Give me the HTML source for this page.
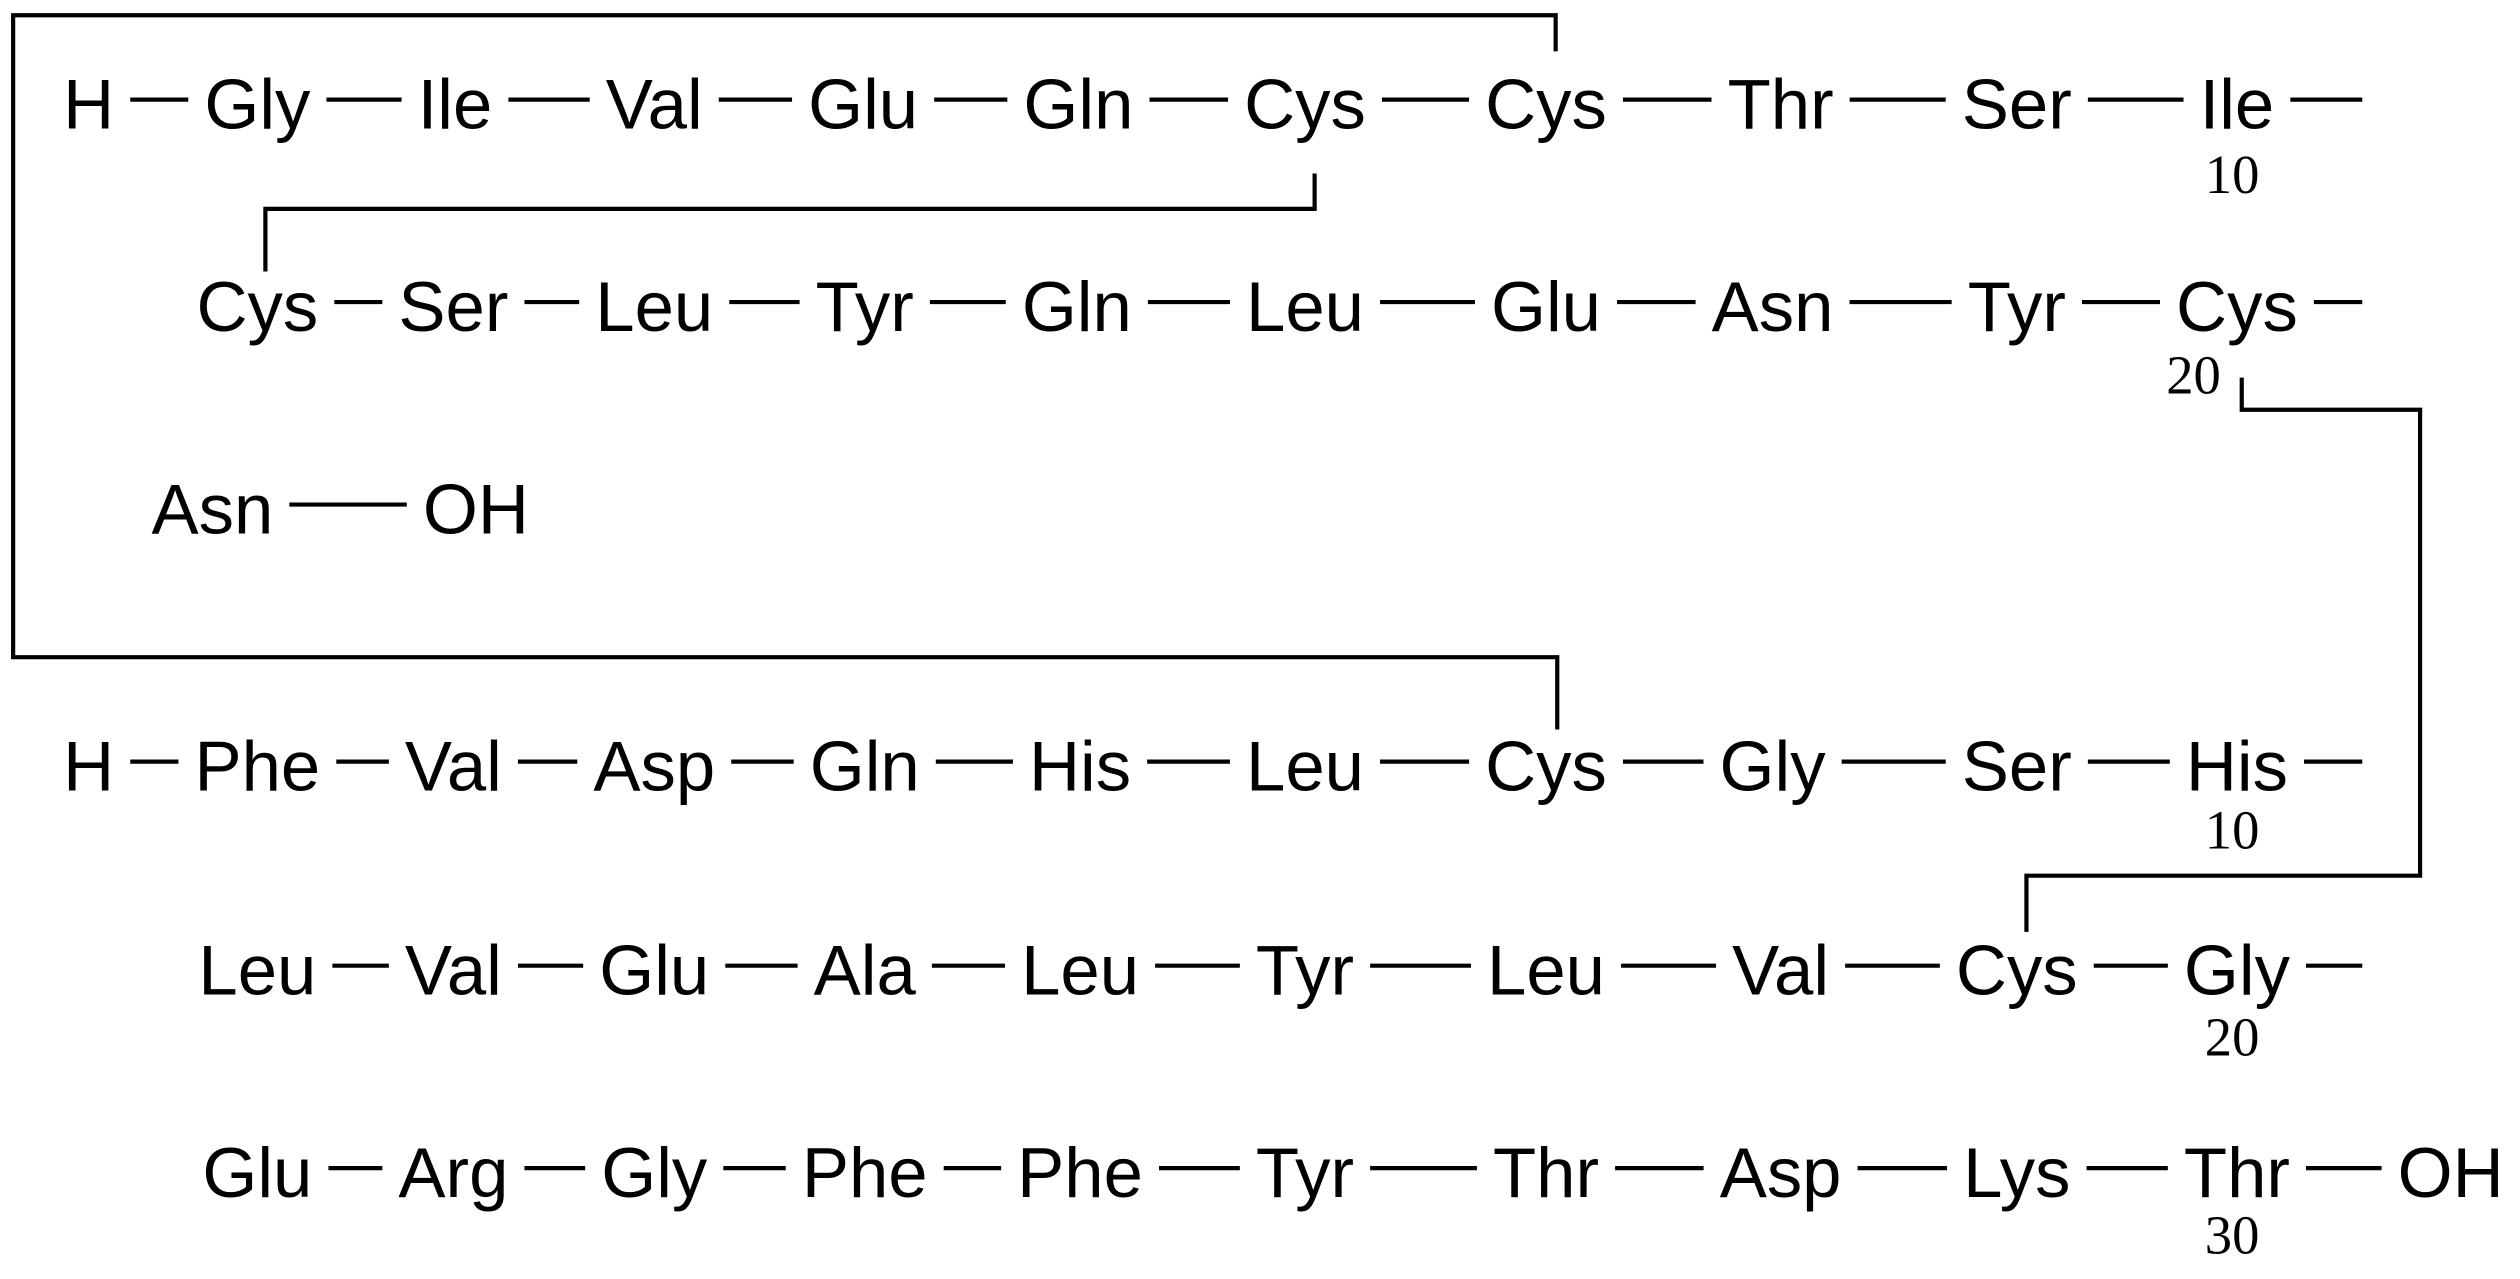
<!DOCTYPE html>
<html><head><meta charset="utf-8"><style>
html,body{margin:0;padding:0;background:#fff;}
svg{display:block;}
text{font-family:"Liberation Sans",Arial,sans-serif;font-size:44px;fill:#000;}
text.n{font-family:"Liberation Serif","Times New Roman",serif;font-size:34px;}
</style></head><body>
<svg id="s" width="2520" height="1279" viewBox="0 0 1568 796" xmlns="http://www.w3.org/2000/svg">
<g fill="none" stroke="#000" stroke-width="2.6">
<polyline points="968,32 968,9.5 8,9.5 8,409 969,409 969,454"/>
<polyline points="818,108 818,130 165,130 165,169"/>
<polyline points="1395,235 1395,255 1506,255 1506,545 1261,545 1261,580"/>
</g>
<g id="rows"></g>
</svg>
<script>
var rows=[
 {y:80,items:[["H",55],["Gly",160],["Ile",283],["Val",407],["Glu",537],["Gln",671],["Cys",812],["Cys",962],["Thr",1108],["Ser",1255],["Ile",1392]],trail:1470},
 {y:206,items:[["Cys",160],["Ser",282],["Leu",407],["Tyr",538],["Gln",670],["Leu",812],["Glu",962],["Asn",1103],["Tyr",1255],["Cys",1392]],trail:1470},
 {y:332,items:[["Asn",132],["OH",296]]},
 {y:492,items:[["H",55],["Phe",160],["Val",282],["Asp",407],["Gln",538],["His",672],["Leu",812],["Cys",962],["Gly",1103],["Ser",1255],["His",1392]],trail:1470},
 {y:619,items:[["Leu",160],["Val",282],["Glu",407],["Ala",538],["Leu",672],["Tyr",812],["Leu",962],["Val",1108],["Cys",1255],["Gly",1392]],trail:1470},
 {y:745,items:[["Glu",160],["Arg",282],["Gly",407],["Phe",538],["Phe",672],["Tyr",812],["Thr",962],["Asp",1108],["Lys",1255],["Thr",1392],["OH",1525]]}
];
var nums=[["10",1389,120],["20",1365,245],["10",1389,528],["20",1389,657],["30",1389,780]];
var NS="http://www.w3.org/2000/svg",g=document.getElementById("rows");
function T(s,x,y,c){var t=document.createElementNS(NS,"text");t.setAttribute("x",x);t.setAttribute("y",y);t.setAttribute("text-anchor","middle");if(c)t.setAttribute("class",c);t.textContent=s;g.appendChild(t);return t;}
function L(x1,x2,y){var l=document.createElementNS(NS,"line");l.setAttribute("x1",x1);l.setAttribute("x2",x2);l.setAttribute("y1",y);l.setAttribute("y2",y);l.setAttribute("stroke","#000");l.setAttribute("stroke-width","2.6");g.appendChild(l);}
rows.forEach(function(r){
 var ext=[];
 r.items.forEach(function(it){var t=T(it[0],it[1],r.y);var w=t.getComputedTextLength();ext.push([it[1]-w/2,it[1]+w/2]);});
 for(var i=0;i<ext.length-1;i++){L(ext[i][1]+10,ext[i+1][0]-10,r.y-18);}
 if(r.trail){L(ext[ext.length-1][1]+10,r.trail,r.y-18);}
});
nums.forEach(function(n){T(n[0],n[1],n[2],"n");});
</script>
</body></html>
